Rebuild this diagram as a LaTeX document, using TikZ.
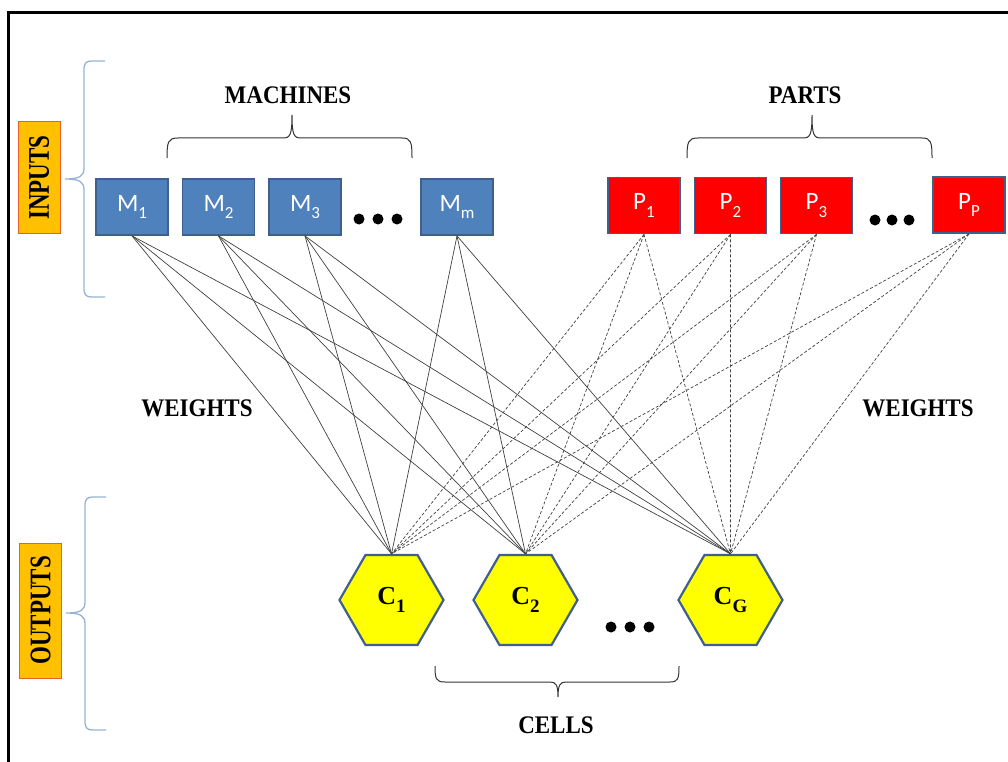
\documentclass[tikz,border=0pt]{standalone}
\usepackage{fontspec}
\setmainfont{Liberation Serif}
\newfontfamily\boxfont{Carlito}
\usetikzlibrary{shapes.geometric}
\definecolor{mblue}{HTML}{4F81BD}
\definecolor{edgeblue}{HTML}{3F5F8C}
\definecolor{pred}{HTML}{FF0000}
\definecolor{hexyellow}{HTML}{FFFF00}
\definecolor{tagfill}{HTML}{FFC000}
\definecolor{tagdraw}{HTML}{E8602C}
\definecolor{bracegray}{HTML}{95B3D7}
% lowered index used in the box and cell labels
\newcommand\idx[2][17]{\raisebox{-0.3em}{\fontsize{#1}{#1}\selectfont #2}}

\begin{document}
\begin{tikzpicture}[x=1pt,y=-1pt,
  mbox/.style={rectangle, fill=mblue, draw=edgeblue, line width=1.8pt,
    minimum width=72pt, minimum height=56pt, inner sep=0pt, text=white,
    font=\boxfont\fontsize{25}{25}\selectfont},
  pbox/.style={mbox, fill=pred},
  cell/.style={regular polygon, regular polygon sides=6, minimum size=104pt,
    inner sep=0pt, fill=hexyellow, draw=edgeblue, line width=2.2pt,
    font=\bfseries\fontsize{26}{26}\selectfont},
  tag/.style={rectangle, fill=tagfill, draw=tagdraw, line width=1pt, rotate=90,
    inner sep=0pt, minimum height=42pt, font=\bfseries\fontsize{23}{23}\selectfont},
  title/.style={font=\bfseries\fontsize{23}{23}\selectfont, inner sep=0pt},
  dotc/.style={circle, fill=black, minimum size=11pt, inner sep=0pt},
  mlink/.style={draw=black!75, line width=0.7pt},
  plink/.style={draw=black!75, line width=0.7pt, dash pattern=on 3pt off 2pt},
  curly/.style={draw=black!80, line width=1pt},
  sidebrace/.style={draw=bracegray, line width=1.3pt}
]
\useasboundingbox (0,0) rectangle (1008,762);

% frame
\draw[line width=3pt] (8.5,762) -- (8.5,12.5) -- (1008,12.5);

% side tags and their braces
\node[tag, minimum width=111pt] (inputs) at (39,177.5) {\scalebox{1}[1.3]{INPUTS}};
\node[tag, minimum width=135pt] (outputs) at (40.5,610.5) {\scalebox{1}[1.3]{OUTPUTS}};
\draw[sidebrace] (105,61) -- (92,61) .. controls (86,61) and (84,63) .. (84,70)
  -- (84,168) .. controls (84,176) and (80,179) .. (65,179)
  .. controls (80,179) and (84,182) .. (84,190) -- (84,288)
  .. controls (84,295) and (86,297) .. (92,297) -- (105,297);
\draw[sidebrace] (106,497) -- (93,497) .. controls (87,497) and (85,499) .. (85,506)
  -- (85,602) .. controls (85,610) and (81,613) .. (66,613)
  .. controls (81,613) and (85,616) .. (85,624) -- (85,721)
  .. controls (85,728) and (87,730) .. (93,730) -- (106,730);

% machines
\node[mbox] (M1) at (132,207) {M\idx{1}};
\node[mbox] (M2) at (218.5,207) {M\idx{2}};
\node[mbox] (M3) at (305,207) {M\idx{3}};
\node[mbox] (Mm) at (457,207) {M\idx{m}};
\node[dotc] (md1) at (359,219) {};
\node[dotc] (md2) at (378,219) {};
\node[dotc] (md3) at (397,219) {};

% parts
\node[pbox] (P1) at (644,205.5) {P\idx{1}};
\node[pbox] (P2) at (730.5,205.5) {P\idx{2}};
\node[pbox] (P3) at (816.5,205.5) {P\idx{3}};
\node[pbox] (Pp) at (969,205) {P\idx{P}};
\node[dotc] (pd1) at (875,220) {};
\node[dotc] (pd2) at (892,220) {};
\node[dotc] (pd3) at (909,220) {};

% cells
\node[cell] (C1) at (391.5,600) {C\idx[19]{1}};
\node[cell] (C2) at (525.5,600) {C\idx[19]{2}};
\node[cell] (CG) at (730.5,600) {C\idx[19]{G}};
\node[dotc] (cd1) at (611,627) {};
\node[dotc] (cd2) at (630,627) {};
\node[dotc] (cd3) at (649,627) {};

% weights
\foreach \m in {M1,M2,M3,Mm}
  \foreach \c in {C1,C2,CG}
    \draw[mlink] (\m.south) -- (\c.north);
\foreach \p in {P1,P2,P3,Pp}
  \foreach \c in {C1,C2,CG}
    \draw[plink] (\p.south) -- (\c.north);

% group braces
\draw[curly] (167,158) .. controls (167,142) and (168,138) .. (178,138) -- (283,138)
  .. controls (290,138) and (292,135) .. (292,115)
  .. controls (292,135) and (294,138) .. (301,138) -- (402,138)
  .. controls (411,138) and (412,142) .. (412,158);
\draw[curly] (687,158) .. controls (687,142) and (688,138) .. (698,138) -- (803,138)
  .. controls (810,138) and (812,135) .. (812,115)
  .. controls (812,135) and (814,138) .. (821,138) -- (922,138)
  .. controls (931,138) and (932,142) .. (932,158);
\draw[curly] (435,666) .. controls (435,679) and (436,682) .. (445,682) -- (550,682)
  .. controls (556,682) and (558,685) .. (558,697)
  .. controls (558,685) and (560,682) .. (566,682) -- (670,682)
  .. controls (678,682) and (679,679) .. (679,666);

% titles
\node[title] (tmach) at (288,95) {\scalebox{1}[1.1]{MACHINES}};
\node[title] (tparts) at (805,95) {\scalebox{1}[1.1]{PARTS}};
\node[title] (twl) at (197,408) {\scalebox{1}[1.1]{WEIGHTS}};
\node[title] (twr) at (918,408) {\scalebox{1}[1.1]{WEIGHTS}};
\node[title] (tcells) at (556,725) {\scalebox{1}[1.1]{CELLS}};
\end{tikzpicture}
\end{document}
